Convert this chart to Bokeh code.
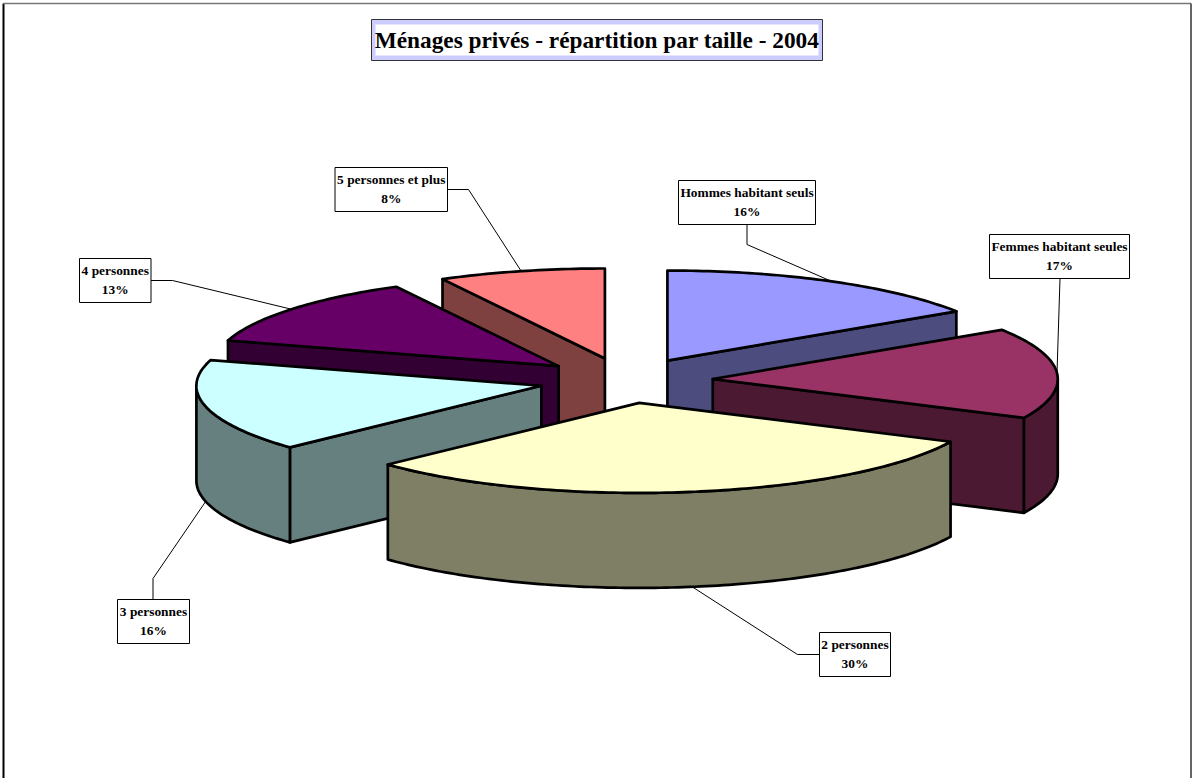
import numpy as np
from bokeh.embed import file_html
from bokeh.models import ColumnDataSource, Range1d
from bokeh.plotting import figure
from bokeh.resources import INLINE
from bokeh.core.properties import value

title = "Ménages privés - répartition par taille - 2004"
categories = ["Hommes habitant seuls", "Femmes habitant seules", "2 personnes",
              "3 personnes", "4 personnes", "5 personnes et plus"]
percent_labels = ["16%", "17%", "30%", "16%", "13%", "8%"]
shares = [15.8, 16.3, 30.9, 16.6, 12.6, 7.8]
top_colors = ["#9999FF", "#993366", "#FFFFCC", "#CCFFFF", "#660066", "#FF8080"]
side_colors = ["#4C4C7F", "#4C1933", "#7F7F66", "#667F7F", "#330033", "#7F4040"]

W, H = 1192, 778
CX, CY, RX, RY, DEPTH, EXPLODE = 625.5, 380, 345, 90, 95, 0.252
DRAW_ORDER = [0, 5, 4, 3, 1, 2]
# label boxes: left, right, top, bottom, then the leader's start and elbow
BOXES = [
    (678, 815, 180, 224, (746.5, 224), (746.5, 244)),
    (989, 1129, 234, 278, (1059.5, 278), None),
    (819, 890, 632, 676, (819, 654), (797, 654)),
    (117, 189, 599, 643, (152.5, 599), (152.5, 578)),
    (79, 150.5, 258, 302, (150.5, 280), (172, 280)),
    (334.5, 447, 167, 211, (447, 189), (468, 189)),
]

p = figure(width=W, height=H, output_backend="svg", toolbar_location=None,
           x_range=Range1d(0, W), y_range=Range1d(H, 0), min_border=0,
           x_axis_location=None, y_axis_location=None, outline_line_color=None)
p.grid.visible = False
p.styles = {"position": "absolute", "left": "0px", "top": "0px"}

# frame
p.line([3, 3], [3, H], line_color="black", line_width=2)
p.line([2.5, 1190.5], [3, 3], line_color="#777777", line_width=1.5)
p.line([1190.5, 1190.5], [3, H], line_color="#333333", line_width=1.5)

edges = np.concatenate([[0], np.cumsum(shares)]) / np.sum(shares) * 2 * np.pi


def rim(ax, ay, a, b):
    t = np.linspace(a, b, max(3, int((b - a) * 60)))
    return ax + RX * np.sin(t), ay - RY * np.cos(t)


def face(xs, ys, color):
    p.patch(list(xs), list(ys), fill_color=color, line_color="black",
            line_width=2.7, line_join="round")


apexes = []
for i in range(len(shares)):
    a, b = edges[i], edges[i + 1]
    mid = (a + b) / 2
    apexes.append((CX + EXPLODE * RX * np.sin(mid), CY - EXPLODE * RY * np.cos(mid)))

for i in DRAW_ORDER:
    a, b = edges[i], edges[i + 1]
    ax, ay = apexes[i]
    col = side_colors[i]
    if np.sin(a) < -1e-6:  # start wall faces the viewer
        ex, ey = rim(ax, ay, a, a)
        face([ax, ex[0], ex[0], ax], [ay, ey[0], ey[0] + DEPTH, ay + DEPTH], col)
    if np.sin(b) > 1e-6:  # end wall faces the viewer
        ex, ey = rim(ax, ay, b, b)
        face([ax, ex[0], ex[0], ax], [ay, ey[0], ey[0] + DEPTH, ay + DEPTH], col)
    lo, hi = max(a, np.pi / 2), min(b, 3 * np.pi / 2)
    if hi > lo:  # outer wall
        rx_, ry_ = rim(ax, ay, lo, hi)
        face(np.r_[rx_, rx_[::-1]], np.r_[ry_, ry_[::-1] + DEPTH], col)
    rx_, ry_ = rim(ax, ay, a, b)
    face(np.r_[ax, rx_], np.r_[ay, ry_], top_colors[i])

# leader lines ending on the rim at each slice's middle angle
for i, box in enumerate(BOXES):
    mid = (edges[i] + edges[i + 1]) / 2
    ax, ay = apexes[i]
    tx = ax + RX * np.sin(mid)
    ty = ay - RY * np.cos(mid) + (DEPTH if np.cos(mid) < -0.2 else 0)
    pts = [box[4]] + ([box[5]] if box[5] else []) + [(tx, ty)]
    p.line([q[0] for q in pts], [q[1] for q in pts], line_color="black", line_width=1)

# label boxes
p.quad(left=[b[0] for b in BOXES], right=[b[1] for b in BOXES],
       top=[b[2] for b in BOXES], bottom=[b[3] for b in BOXES],
       fill_color="white", line_color="black", line_width=1)
lab = ColumnDataSource(dict(
    x=[(b[0] + b[1]) / 2 for b in BOXES],
    y1=[b[2] + 12 for b in BOXES], y2=[b[2] + 30.5 for b in BOXES],
    name=categories, pct=percent_labels))
for y, t in (("y1", "name"), ("y2", "pct")):
    p.text(x="x", y=y, text=t, source=lab, text_align="center", text_baseline="middle",
           text_font=value("Liberation Serif"), text_font_style="bold",
           text_font_size="13.4px", text_color="black")

# title
p.quad(left=[371], right=[822], top=[19], bottom=[60], fill_color="#CCCCFF",
       line_color="#333333", line_width=1)
p.quad(left=[375], right=[818], top=[24], bottom=[55], fill_color="white", line_color=None)
p.text(x=[596.5], y=[39.5], text=[title], text_align="center", text_baseline="middle",
       text_font=value("Liberation Serif"), text_font_style="bold",
       text_font_size="23.3px", text_color="black")

open("out.html", "w").write(file_html(p, INLINE))
